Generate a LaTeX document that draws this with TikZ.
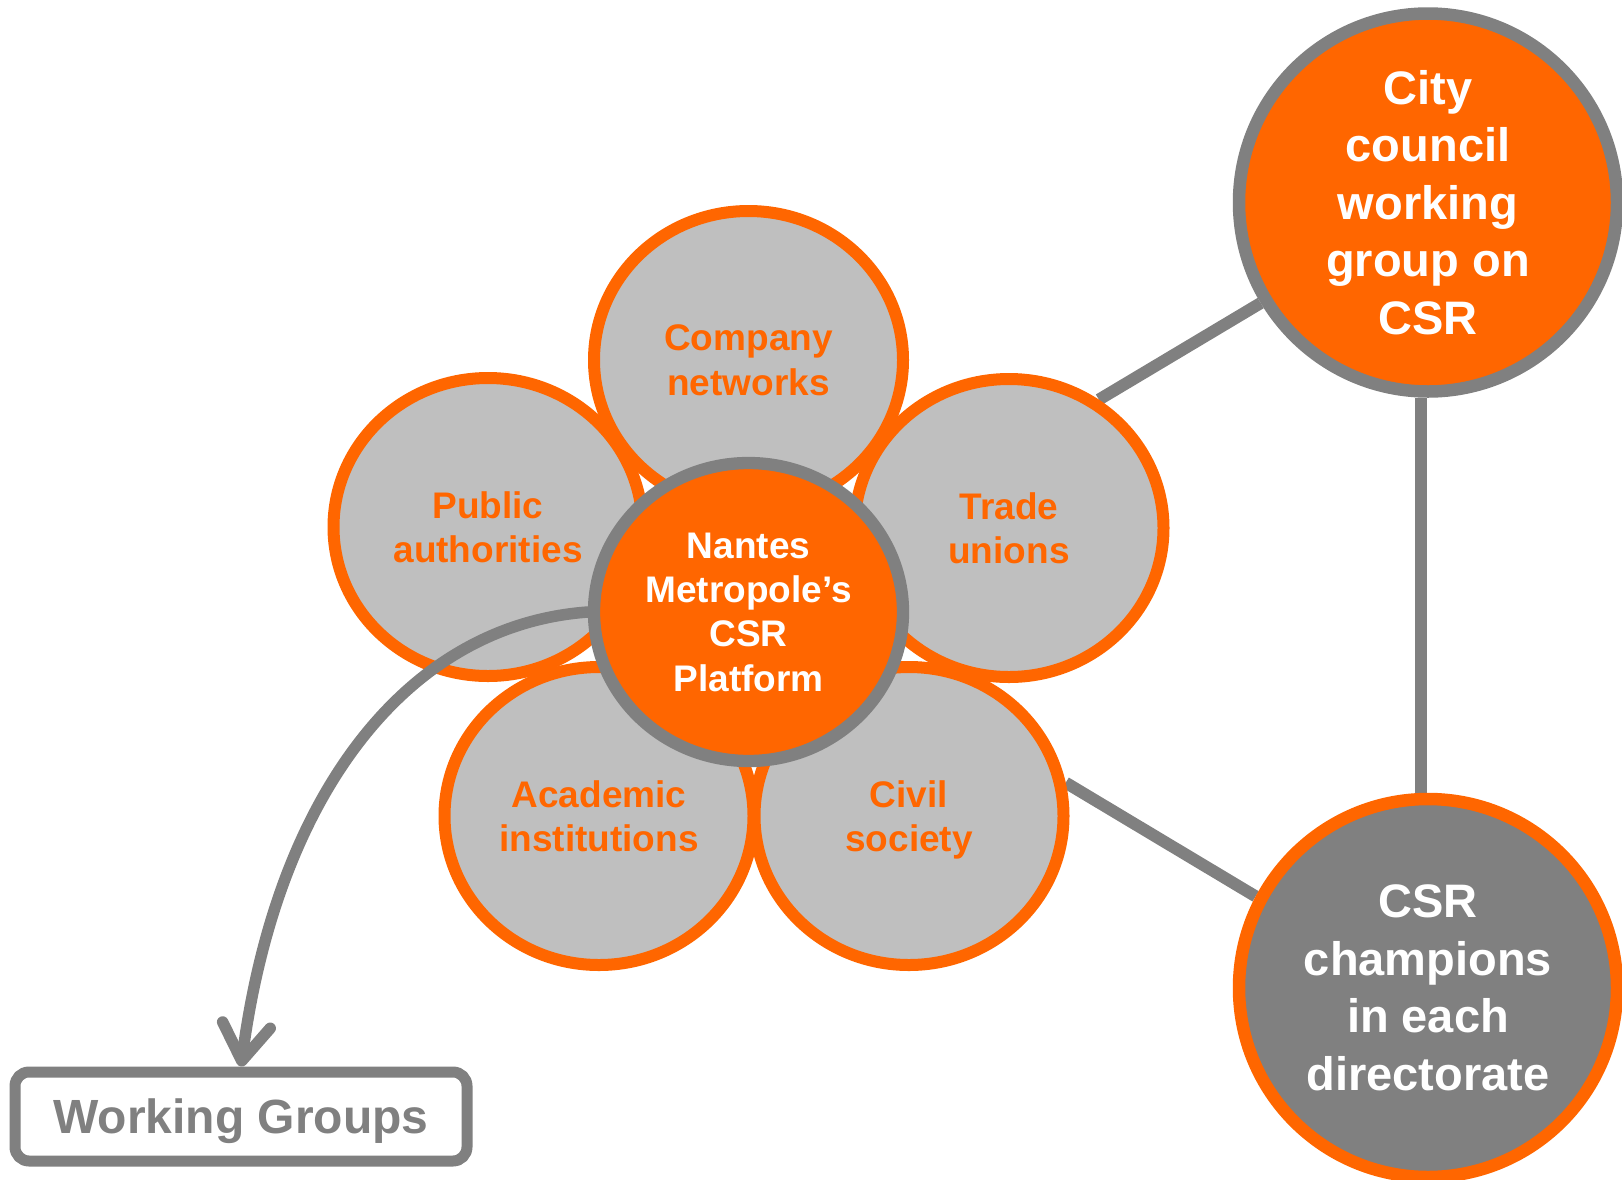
\documentclass[tikz,border=0pt]{standalone}
\usepackage{fontspec}
\setmainfont{Liberation Sans}
\usetikzlibrary{shapes.geometric,arrows.meta,backgrounds}
\definecolor{csrorange}{HTML}{FF6600}
\definecolor{csrgray}{HTML}{808080}
\definecolor{petalgray}{HTML}{BFBFBF}
\begin{document}
\begin{tikzpicture}[x=1pt,y=-1pt,
  petal/.style={ellipse, draw=csrorange, fill=petalgray, line width=12pt,
    minimum width=309pt, minimum height=298pt, inner sep=0pt, align=center,
    text depth=0pt,
    text=csrorange, font=\bfseries\fontsize{37}{44.3}\selectfont},
  hub/.style={petal, draw=csrgray, fill=csrorange, line width=12.3pt, text=white},
  bigorb/.style={circle, line width=12.5pt, minimum size=378pt, inner sep=0pt,
    align=center, text=white, font=\bfseries\fontsize{47}{57.5}\selectfont},
  wgbox/.style={draw=csrgray, line width=11pt, rounded corners=14pt,
    minimum width=452pt, minimum height=89pt, inner sep=0pt, text depth=0pt,
    text=csrgray, font=\bfseries\fontsize{48}{57}\selectfont},
  link/.style={draw=csrgray, line width=12pt},
  ]
\useasboundingbox (0,0) rectangle (1622,1179);
\node[petal] (pub) at (488,527) {Public\\authorities};
\node[petal] (comp) at (748.5,360) {Company\\networks};
\node[petal] (trade) at (1009,528) {Trade\\unions};
\node[petal] (acad) at (599,816) {Academic\\institutions};
\node[petal] (civil) at (909,816) {Civil\\society};
\node[hub] (hub) at (748.5,612) {Nantes\\Metropole’s\\CSR\\Platform};
\node[bigorb, draw=csrgray, fill=csrorange] (city) at (1428,202.5) {City\\council\\working\\group on\\CSR};
\node[bigorb, draw=csrorange, fill=csrgray] (champ) at (1428,988) {CSR\\champions\\in each\\directorate};
\node[wgbox] (wg) at (241,1116.5) {Working Groups};
\begin{scope}[on background layer]
\draw[link] (trade.55) -- (city.211);
\draw[link] (civil.12) -- (champ.152);
\draw[link] ([xshift=-7pt]city.south) -- ([xshift=-7pt]champ.north);
\end{scope}
\draw[link, line width=11.5pt, line cap=round, -{Straight Barb[round,length=36pt,width=48pt]}]
  (hub.west) .. controls (408,625) and (277,793) .. (wg.north);
\end{tikzpicture}
\end{document}
